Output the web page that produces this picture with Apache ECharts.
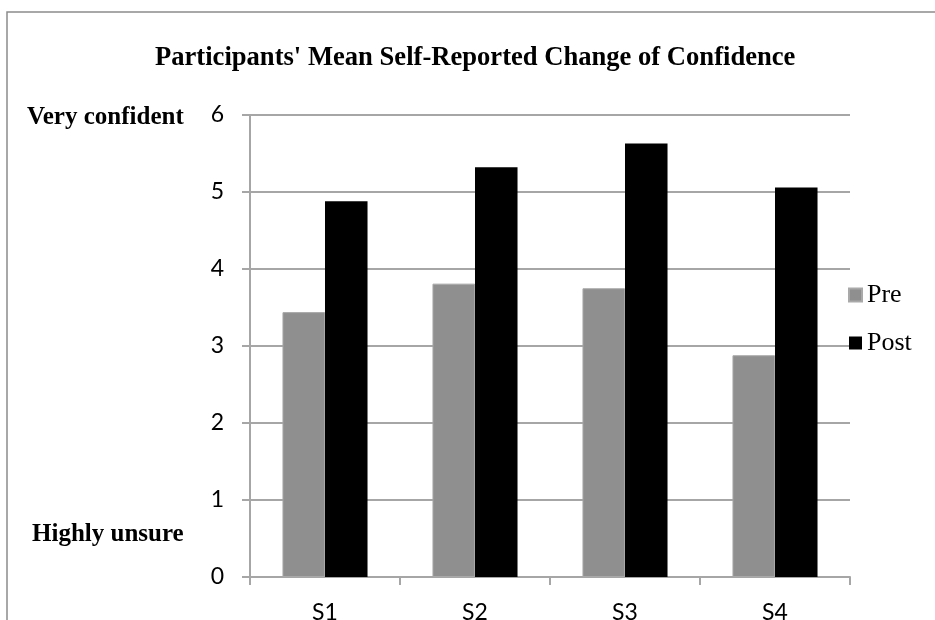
<!DOCTYPE html>
<html>
<head>
<meta charset="utf-8">
<script src="https://cdn.jsdelivr.net/npm/echarts@6/dist/echarts.min.js"></script>
<style>
  html, body { margin: 0; padding: 0; background: #fff; }
  #chart { width: 935px; height: 620px; }
</style>
</head>
<body>
<div id="chart"></div>
<script>
const categories = ['S1', 'S2', 'S3', 'S4']
const preValues = [3.44, 3.81, 3.75, 2.88]
const postValues = [4.88, 5.32, 5.63, 5.06]
const seriesNames = ['Pre', 'Post']
const yTicks = { min: 0, max: 6, interval: 1 }
const topLabel = 'Very confident'
const bottomLabel = 'Highly unsure'
const chartTitle = "Participants' Mean Self-Reported Change of Confidence"

const serif = "'Liberation Serif', 'Times New Roman', serif"
const sans = "Lato, 'Open Sans', sans-serif"
const gridColor = '#a6a6a6'

const chart = echarts.init(document.getElementById('chart'))

chart.setOption({
  animation: false,
  title: {
    text: chartTitle,
    left: 155,
    top: 45,
    padding: 0,
    textStyle: { fontFamily: serif, fontSize: 26.6, fontWeight: 'bold', color: '#000' },
  },
  legend: {
    data: seriesNames,
    orient: 'vertical',
    left: 848,
    top: 282,
    padding: 0,
    icon: 'rect',
    itemWidth: 13,
    itemHeight: 13,
    itemGap: 22,
    textStyle: { fontFamily: serif, fontSize: 26, color: '#000' },
  },
  grid: { left: 250, right: 85, top: 115, bottom: 43, containLabel: false, outerBoundsMode: 'none' },
  xAxis: {
    type: 'category',
    data: categories,
    axisLine: { show: true, lineStyle: { color: gridColor, width: 2 } },
    axisTick: { show: true, length: 8, lineStyle: { color: gridColor, width: 2 } },
    axisLabel: { fontFamily: sans, fontSize: 23, color: '#000', margin: 24 },
  },
  yAxis: {
    type: 'value',
    min: yTicks.min,
    max: yTicks.max,
    interval: yTicks.interval,
    axisLine: { show: true, lineStyle: { color: gridColor, width: 2 } },
    axisTick: { show: true, length: 8, lineStyle: { color: gridColor, width: 2 } },
    axisLabel: { fontFamily: sans, fontSize: 23, color: '#000', margin: 26 },
    splitLine: { show: true, lineStyle: { color: gridColor, width: 2 } },
  },
  series: [
    {
      name: seriesNames[0],
      type: 'bar',
      data: preValues,
      barGap: 0,
      barCategoryGap: '43.3%',
      itemStyle: { color: '#8f8f8f', borderColor: '#a9a9a9', borderWidth: 1 },
    },
    {
      name: seriesNames[1],
      type: 'bar',
      data: postValues,
      barGap: 0,
      barCategoryGap: '43.3%',
      itemStyle: { color: '#000' },
    },
  ],
  graphic: [
    {
      type: 'rect',
      silent: true,
      shape: { x: 7, y: 12, width: 1200, height: 1200 },
      style: { fill: 'none', stroke: '#8c8c8c', lineWidth: 1.5 },
    },
    {
      type: 'text',
      left: 27,
      top: 105,
      style: { text: topLabel, font: 'bold 25px ' + serif, fill: '#000' },
    },
    {
      type: 'text',
      left: 32,
      top: 522,
      style: { text: bottomLabel, font: 'bold 25px ' + serif, fill: '#000' },
    },
  ],
})
</script>
</body>
</html>
